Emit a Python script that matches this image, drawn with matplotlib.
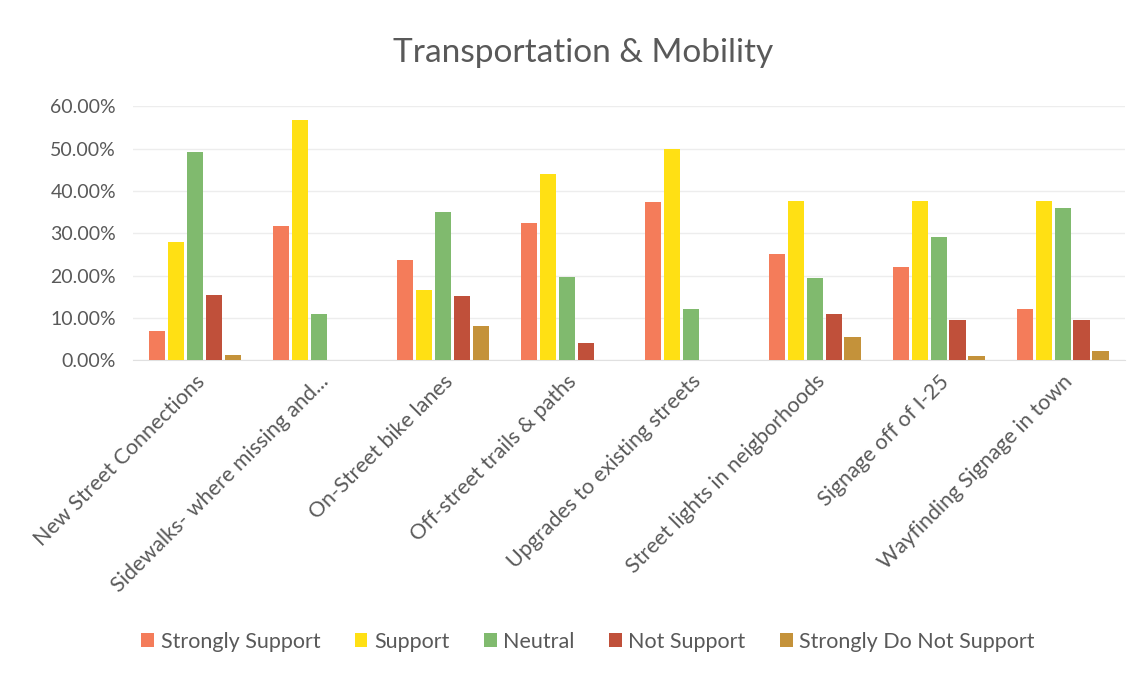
import matplotlib.pyplot as plt
import numpy as np
from matplotlib.ticker import PercentFormatter

plt.rcParams['font.family'] = ['Lato', 'DejaVu Sans']

categories = ['New Street Connections', 'Sidewalks- where missing and...',
              'On-Street bike lanes', 'Off-street trails & paths',
              'Upgrades to existing streets', 'Street lights in neigborhoods',
              'Signage off of I-25', 'Wayfinding Signage in town']
series = ['Strongly Support', 'Support', 'Neutral', 'Not Support', 'Strongly Do Not Support']
strongly_support = [7.0, 31.7, 23.7, 32.5, 37.3, 25.0, 22.0, 12.0]
support = [28.0, 56.8, 16.7, 43.9, 50.0, 37.5, 37.5, 37.5]
neutral = [49.2, 10.9, 35.0, 19.6, 12.1, 19.4, 29.0, 36.0]
not_support = [15.4, 0, 15.2, 4.1, 0, 11.0, 9.4, 9.4]
strongly_not = [1.3, 0, 8.1, 0, 0, 5.4, 1.0, 2.1]
colors = ['#F47C5A', '#FFE014', '#80BA6E', '#C0503A', '#C4923A']

values = [strongly_support, support, neutral, not_support, strongly_not]

fig = plt.figure(figsize=(11.44, 6.77), dpi=100)
ax = fig.add_axes([0.116, 0.468, 0.867, 0.375])

x = np.arange(len(categories))
step = 0.153
width = 0.13
for i, (name, vals, c) in enumerate(zip(series, values, colors)):
    ax.bar(x + (i - 2) * step, np.array(vals) / 100, width=width, color=c, label=name, zorder=3)

ax.set_ylim(0, 0.6)
ax.set_xlim(-0.5, len(categories) - 0.5)
ax.yaxis.set_major_formatter(PercentFormatter(1.0, decimals=2))
ax.set_yticks(np.arange(0, 0.61, 0.1))
ax.grid(axis='y', color='#EDEDED', linewidth=1, zorder=0)
for s in ['top', 'right', 'left']:
    ax.spines[s].set_visible(False)
ax.spines['bottom'].set_color('#E0E0E0')
ax.tick_params(axis='y', length=0, labelsize=14, colors='#595959', pad=12)
ax.tick_params(axis='x', length=0, colors='#595959', pad=8)
ax.set_xticks(x)
ax.set_xticklabels(categories, rotation=45, ha='right', rotation_mode='anchor', fontsize=15.5)
for lbl in ax.get_xticklabels():
    lbl.set_color('#595959')

fig.text(0.51, 0.922, 'Transportation & Mobility', fontsize=24, color='#595959',
         ha='center', va='center')

fig.legend(loc='center', bbox_to_anchor=(0.514, 0.052), ncol=5, frameon=False,
           fontsize=15.5, handlelength=0.6, handleheight=0.6, handletextpad=0.3,
           columnspacing=1.6, labelcolor='#595959')

fig.savefig('out.png', dpi=100, facecolor='white')
